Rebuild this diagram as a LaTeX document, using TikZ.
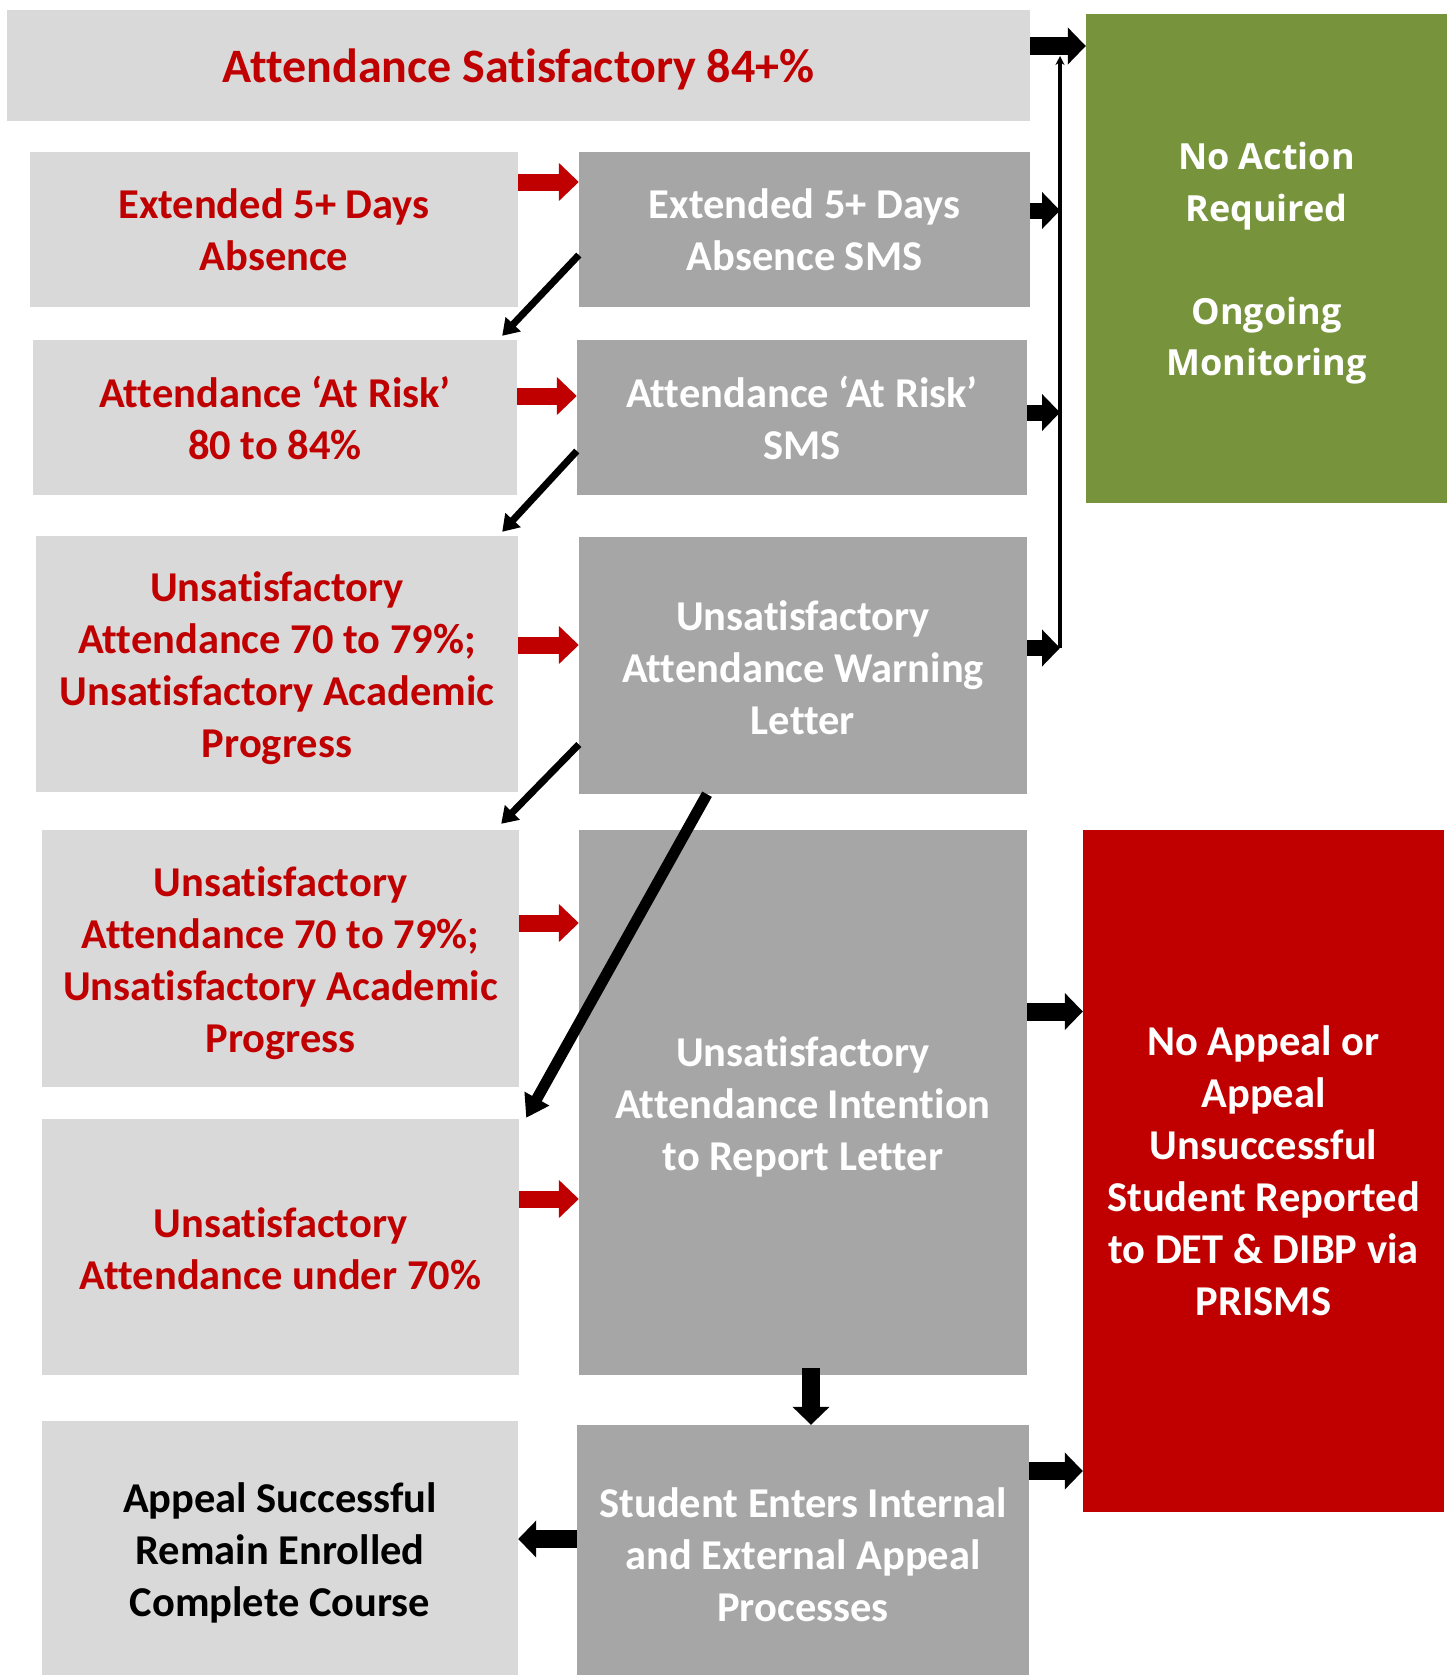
\documentclass[tikz,border=0pt]{standalone}
\usepackage{fontspec}
\setmainfont{Carlito}[Ligatures=NoCommon]
\newfontfamily\osfont{Open Sans}
\usetikzlibrary{arrows.meta,calc}
\definecolor{lgray}{HTML}{D9D9D9}
\definecolor{mgray}{HTML}{A6A6A6}
\definecolor{ogreen}{HTML}{77933C}
\definecolor{dred}{HTML}{C00000}
\newcommand\dnshift[1]{\rule{0pt}{\dimexpr\fontcharht\font`d+#1\relax}}
\begin{document}
\begin{tikzpicture}[x=1pt,y=-1pt,
  box/.style={rectangle, inner sep=0pt, align=center, font=\fontsize{42.5}{52}\selectfont\bfseries},
  lbox/.style={box, fill=lgray, text=dred},
  mbox/.style={box, fill=mgray, text=white},
  redarr/.style={draw=dred, line width=17pt, -{Triangle[length=20pt,width=37pt,fill=dred]}},
  blkarr/.style={draw=black, line width=17pt, -{Triangle[length=18pt,width=36pt]}},
  thinarr/.style={draw=black, line width=7pt, -{Triangle[length=16pt,width=20pt]}},
  thickarr/.style={draw=black, line width=11pt, -{Triangle[length=22pt,width=27pt]}},
  vlinestyle/.style={draw=black, line width=4pt, -{Stealth[length=9pt,width=9pt]}}
]
\useasboundingbox (0,0) rectangle (1453,1675);
\fill[white] (0,0) rectangle (1453,1675);

% top and right boxes
\node[lbox, minimum width=1023pt, minimum height=111pt, font=\fontsize{48}{56}\selectfont\bfseries] (top) at (518.5,65.5) {\dnshift{7pt}Attendance Satisfactory 84+\%};
\node[box, fill=ogreen, text=white, font=\osfont\fontsize{36}{51.5}\selectfont\bfseries, minimum width=361pt, minimum height=489pt] (green) at (1266.5,258.5) {\dnshift{10pt}No Action\\Required\\[51.5pt]Ongoing\\Monitoring};
\node[box, fill=dred, text=white, minimum width=361pt, minimum height=682pt] (redbox) at (1263.5,1171) {No Appeal or\\Appeal\\Unsuccessful\\Student Reported\\to DET \& DIBP via\\PRISMS};

% left column
\node[lbox, minimum width=488pt, minimum height=155pt] (L1) at (274,229.5) {Extended 5+ Days\\Absence};
\node[lbox, minimum width=484pt, minimum height=155pt] (L2) at (275,417.5) {Attendance ‘At Risk’\\80 to 84\%};
\node[lbox, minimum width=482pt, minimum height=256pt] (L3) at (277,664) {\dnshift{9pt}Unsatisfactory\\Attendance 70 to 79\%;\\Unsatisfactory Academic\\Progress};
\node[lbox, minimum width=477pt, minimum height=257pt] (L4) at (280.5,958.5) {\dnshift{9pt}Unsatisfactory\\Attendance 70 to 79\%;\\Unsatisfactory Academic\\Progress};
\node[lbox, minimum width=477pt, minimum height=256pt] (L5) at (280.5,1247) {\dnshift{3pt}Unsatisfactory\\Attendance under 70\%};
\node[lbox, text=black, minimum width=476pt, minimum height=254pt] (L6) at (280,1548) {\dnshift{10pt}Appeal Successful\\Remain Enrolled\\Complete Course};

% middle column
\node[mbox, minimum width=451pt, minimum height=155pt] (M1) at (804.5,229.5) {Extended 5+ Days\\Absence SMS};
\node[mbox, minimum width=450pt, minimum height=155pt] (M2) at (802,417.5) {Attendance ‘At Risk’\\SMS};
\node[mbox, minimum width=448pt, minimum height=257pt] (M3) at (803,665.5) {\dnshift{4pt}Unsatisfactory\\Attendance Warning\\Letter};
\node[mbox, minimum width=448pt, minimum height=545pt] (M4) at (803,1102.5) {\dnshift{9pt}Unsatisfactory\\Attendance Intention\\to Report Letter};
\node[mbox, minimum width=452pt, minimum height=250pt] (M5) at (803,1550) {\dnshift{9pt}Student Enters Internal\\and External Appeal\\Processes};

% red arrows
\draw[redarr] ([yshift=47.5pt]L1.east) -- ([yshift=47.5pt]L1.east -| M1.west);
\draw[redarr] ([yshift=21.5pt]L2.east) -- ([yshift=21.5pt]L2.east -| M2.west);
\draw[redarr] ([yshift=19pt]L3.east) -- ([yshift=19pt]L3.east -| M3.west);
\draw[redarr] ([yshift=35.5pt]L4.east) -- ([yshift=35.5pt]L4.east -| M4.west);
\draw[redarr] ([yshift=48pt]L5.east) -- ([yshift=48pt]L5.east -| M4.west);

% vertical collector line
\coordinate (vtop) at (1060,56);
\coordinate (vbot) at (1060,648);
\draw[vlinestyle] (vbot) -- (vtop);

% black arrows to the right
\draw[blkarr, line width=18pt] ([yshift=19.5pt]top.east) -- ([yshift=19.5pt]top.east -| green.west);
\draw[blkarr, line width=16pt] ([yshift=19pt]M1.east) -- ([yshift=19pt]M1.east -| vbot);
\draw[blkarr, line width=16pt] ([yshift=5pt]M2.east) -- ([yshift=5pt]M2.east -| vbot);
\draw[blkarr, line width=16pt] ([yshift=17.5pt]M3.east) -- ([yshift=17.5pt]M3.east -| vbot);
\draw[blkarr, line width=18pt] ([yshift=91pt]M4.east) -- ([yshift=91pt]M4.east -| redbox.west);
\draw[blkarr, line width=18pt] ([yshift=79pt]M5.east) -- ([yshift=79pt]M5.east -| redbox.west);

% down and left arrows
\draw[blkarr, line width=18pt] ([xshift=8pt,yshift=7pt]M4.south) -- ([xshift=8pt]M5.north);
\draw[blkarr, line width=18pt] ([yshift=11pt]M5.west) -- ([yshift=11pt]M5.west -| L6.east);

% diagonal arrows
\draw[thinarr] ([yshift=-25.5pt]M1.west) -- ([xshift=-15pt,yshift=4pt]L2.north east);
\draw[thinarr] ([yshift=-33.5pt]M2.west) -- ([xshift=-16pt,yshift=4pt]L3.north east);
\draw[thinarr] ([yshift=-79pt]M3.west) -- ([xshift=-18pt,yshift=6pt]L4.north east);
\draw[thickarr] ([xshift=-96pt]M3.south) -- ([xshift=7pt,yshift=1pt]L5.north east);
\end{tikzpicture}
\end{document}
